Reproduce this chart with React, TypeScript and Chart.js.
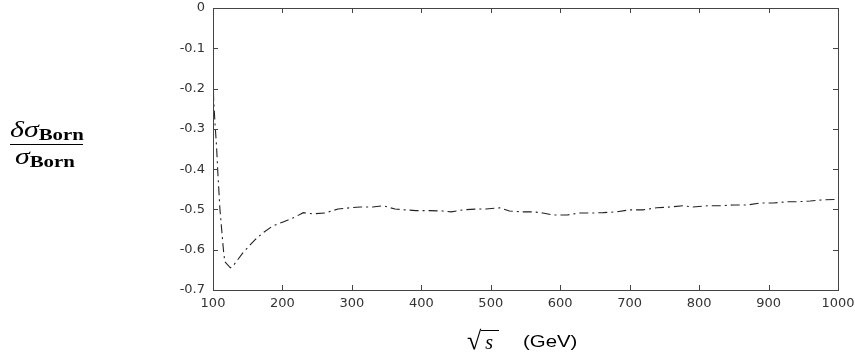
import React, { useEffect, useRef } from "react";
import { Chart, registerables } from "chart.js";

Chart.register(...registerables);

const energies = [100, 101, 103, 105, 107, 110, 113, 115, 117, 125, 129, 143, 160, 172, 186, 201, 218, 230, 244, 261, 280, 297, 312, 330, 345, 362, 377, 392, 412, 431, 443, 460, 479, 493, 513, 527, 546, 561, 575, 590, 610, 626, 643, 662, 682, 700, 719, 739, 758, 777, 791, 812, 830, 849, 869, 888, 907, 927, 941, 960, 979, 1000];
const correction = [-0.16, -0.23, -0.29, -0.34, -0.41, -0.5, -0.56, -0.6, -0.63, -0.645, -0.64, -0.608, -0.576, -0.558, -0.541, -0.531, -0.519, -0.508, -0.511, -0.509, -0.499, -0.496, -0.494, -0.494, -0.491, -0.499, -0.501, -0.503, -0.503, -0.504, -0.506, -0.501, -0.499, -0.499, -0.496, -0.504, -0.506, -0.506, -0.509, -0.514, -0.514, -0.509, -0.509, -0.508, -0.506, -0.501, -0.501, -0.496, -0.494, -0.491, -0.494, -0.491, -0.491, -0.489, -0.489, -0.484, -0.484, -0.481, -0.481, -0.479, -0.476, -0.475];
const xTicks = [100, 200, 300, 400, 500, 600, 700, 800, 900, 1000];
const yTicks = [0, -0.1, -0.2, -0.3, -0.4, -0.5, -0.6, -0.7];

const frame = {
  id: "frame",
  afterDraw(chart: any) {
    const { ctx, chartArea: a, scales } = chart;
    ctx.save();
    ctx.strokeStyle = "#444";
    ctx.lineWidth = 1;
    ctx.strokeRect(Math.round(a.left) + 0.5, Math.round(a.top) + 0.5, Math.round(a.right - a.left), Math.round(a.bottom - a.top));
    const len = 5;
    ctx.beginPath();
    xTicks.forEach((v) => {
      const px = Math.round(scales.x.getPixelForValue(v)) + 0.5;
      ctx.moveTo(px, a.bottom);
      ctx.lineTo(px, a.bottom - len);
      ctx.moveTo(px, a.top);
      ctx.lineTo(px, a.top + len);
    });
    yTicks.forEach((v) => {
      const py = Math.round(scales.y.getPixelForValue(v)) + 0.5;
      ctx.moveTo(a.left, py);
      ctx.lineTo(a.left + len, py);
      ctx.moveTo(a.right, py);
      ctx.lineTo(a.right - len, py);
    });
    ctx.stroke();
    ctx.restore();
  },
};

export default function App() {
  const ref = useRef<HTMLCanvasElement | null>(null);

  useEffect(() => {
    if (!ref.current) return;
    const chart = new Chart(ref.current, {
      type: "line",
      data: {
        datasets: [
          {
            data: energies.map((x, i) => ({ x, y: correction[i] })),
            borderColor: "#222",
            borderWidth: 1.1,
            borderDash: [9, 4, 2, 4],
            pointRadius: 0,
            tension: 0,
            fill: false,
          },
        ],
      },
      options: {
        responsive: false,
        animation: false,
        plugins: { legend: { display: false }, tooltip: { enabled: false } },
        layout: { padding: { left: 0, right: 17, top: 8, bottom: 0 } },
        scales: {
          x: {
            type: "linear",
            min: 100,
            max: 1000,
            afterBuildTicks: (s: any) => {
              s.ticks = xTicks.map((v) => ({ value: v }));
            },
            afterFit: (s: any) => {
              s.height = 68;
            },
            grid: { display: false },
            border: { display: false },
            ticks: {
              padding: -2,
              color: "#333",
              font: { family: "DejaVu Sans", size: 13 },
              maxRotation: 0,
              autoSkip: false,
              callback: (v: any) => String(v),
            },
          },
          y: {
            min: -0.7,
            max: 0,
            afterBuildTicks: (s: any) => {
              s.ticks = yTicks.map((v) => ({ value: v }));
            },
            afterFit: (s: any) => {
              s.width = 213;
            },
            grid: { display: false },
            border: { display: false },
            ticks: {
              padding: 0,
              color: "#333",
              font: { family: "DejaVu Sans", size: 13 },
              callback: (v: any) => (Math.abs(v) < 1e-9 ? "0" : Number(v).toFixed(1)),
            },
          },
        },
      },
      plugins: [frame],
    });
    return () => chart.destroy();
  }, []);

  const serif = "'Liberation Serif', 'DejaVu Serif', serif";
  const stretch = { transform: "scaleX(1.3)", transformOrigin: "left center" };

  return (
    <div style={{ position: "absolute", left: 0, top: 0, width: 855, height: 358, background: "#fff" }}>
      <canvas ref={ref} width={855} height={358} style={{ position: "absolute", left: 0, top: 0 }} />
      <div style={{ position: "absolute", left: 10, top: 118, fontFamily: serif, color: "#000", whiteSpace: "nowrap", lineHeight: 1, ...stretch }}>
        <span style={{ fontStyle: "italic", fontSize: 23 }}>δσ</span>
        <span style={{ fontWeight: "bold", fontSize: 16, position: "relative", top: 3 }}>Born</span>
      </div>
      <div style={{ position: "absolute", left: 10, top: 144, width: 73, height: 1, background: "#000" }} />
      <div style={{ position: "absolute", left: 15, top: 145, fontFamily: serif, color: "#000", whiteSpace: "nowrap", lineHeight: 1, ...stretch }}>
        <span style={{ fontStyle: "italic", fontSize: 23 }}>σ</span>
        <span style={{ fontWeight: "bold", fontSize: 16, position: "relative", top: 3 }}>Born</span>
      </div>
      <div style={{ position: "absolute", left: 467, top: 328, fontFamily: serif, color: "#000", whiteSpace: "nowrap", lineHeight: 1 }}>
        <span style={{ fontSize: 26 }}>√</span>
        <span style={{ fontStyle: "italic", fontSize: 20, borderTop: "1px solid #000", paddingLeft: 4, paddingRight: 6 }}>s</span>
      </div>
      <div style={{ position: "absolute", left: 523, top: 333, fontFamily: "'Liberation Sans', Arial, sans-serif", fontSize: 17, color: "#000", whiteSpace: "nowrap", lineHeight: 1, transform: "scaleX(1.2)", transformOrigin: "left center" }}>
        (GeV)
      </div>
    </div>
  );
}
